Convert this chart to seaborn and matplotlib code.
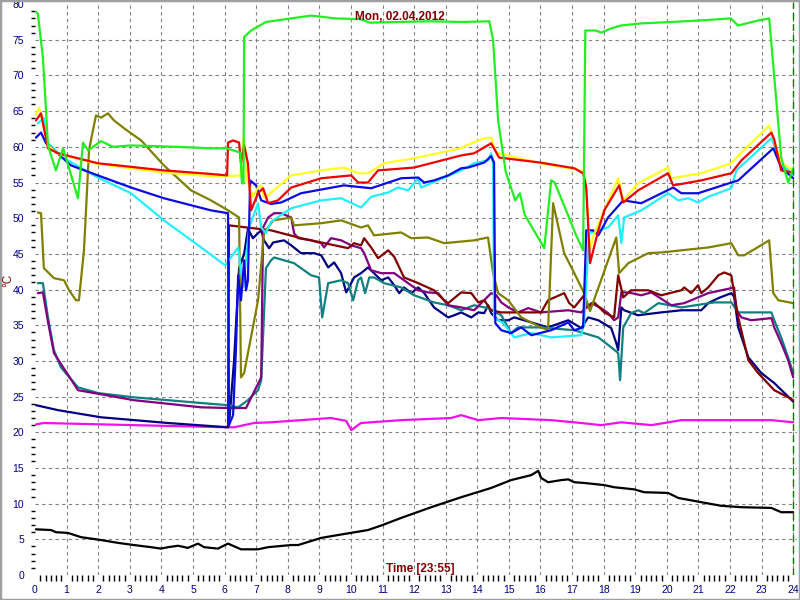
import numpy as np
import pandas as pd
import seaborn as sns
import matplotlib
matplotlib.use('Agg')
from matplotlib import pyplot as plt
from matplotlib.ticker import MultipleLocator
from matplotlib.patches import Rectangle

# Temperaturkurven vom 02.04.2012, (Stunde, °C)
black = [(0.03, 6.4), (0.51, 6.3), (0.66, 6.0), (1.04, 5.9), (1.46, 5.3), (2.09, 4.9), (2.63, 4.5),
         (3.13, 4.2), (3.67, 3.9), (3.99, 3.7), (4.21, 3.9), (4.53, 4.1), (4.84, 3.8), (5.16, 4.4),
         (5.35, 3.9), (5.79, 3.7), (6.11, 4.4), (6.52, 3.6), (7.06, 3.6), (7.38, 3.9), (8.11, 4.2),
         (8.33, 4.2), (9.06, 5.2), (9.59, 5.6), (10.54, 6.3), (11.0, 7.0), (11.59, 8.0), (12.54, 9.5),
         (13.49, 10.9), (14.44, 12.2), (15.07, 13.3), (15.71, 14.0), (15.93, 14.6), (16.02, 13.6),
         (16.24, 13.0), (16.66, 13.3), (16.88, 13.4), (17.07, 13.0), (17.38, 12.9), (18.02, 12.6),
         (18.33, 12.3), (18.97, 12.0), (19.28, 11.6), (20.04, 11.5), (20.36, 10.8), (21.09, 10.2),
         (21.72, 9.7), (22.36, 9.5), (23.31, 9.4), (23.62, 8.8), (24.0, 8.8)]

magenta = [(0.03, 21.1), (0.28, 21.3), (3.13, 21.0), (6.11, 20.7), (6.3, 20.7), (6.93, 21.3),
           (7.47, 21.4), (8.42, 21.7), (9.37, 22.0), (9.85, 21.6), (10.01, 20.3), (10.32, 21.3),
           (11.59, 21.7), (13.17, 22.0), (13.49, 22.4), (14.03, 21.7), (14.76, 22.0), (16.34, 21.7),
           (17.29, 21.3), (17.92, 21.0), (18.56, 21.4), (19.51, 21.0), (20.46, 21.7), (21.09, 21.7),
           (22.67, 21.7), (23.31, 21.7), (24.0, 21.4)]

navy = [(0.03, 23.8), (0.73, 23.1), (2.09, 22.1), (4.21, 21.3), (6.11, 20.7), (6.14, 21.0), (6.3, 30.0),
        (6.46, 43.0), (6.62, 45.0), (6.74, 48.5), (6.9, 47.2), (7.06, 47.9), (7.16, 48.3), (7.25, 46.9),
        (7.41, 45.8), (7.54, 46.6), (7.88, 46.9), (8.11, 46.2), (8.42, 45.1), (8.83, 45.1), (9.06, 44.8),
        (9.28, 43.1), (9.47, 43.8), (9.69, 42.3), (9.85, 39.6), (9.94, 40.3), (10.1, 41.7), (10.32, 42.3),
        (10.54, 43.1), (10.73, 42.3), (10.96, 41.3), (11.18, 41.7), (11.37, 40.6), (11.53, 39.5),
        (11.68, 40.3), (11.91, 39.5), (12.13, 40.3), (12.32, 39.5), (12.63, 37.5), (13.08, 36.1),
        (13.27, 36.4), (13.49, 36.8), (13.81, 36.1), (14.03, 36.8), (14.22, 36.7), (14.34, 37.8),
        (14.44, 36.7), (14.66, 35.7), (14.98, 35.7), (15.17, 36.1), (15.71, 35.4), (16.24, 34.7),
        (16.88, 35.7), (17.29, 34.6), (17.51, 36.1), (17.83, 35.7), (18.24, 34.6), (18.4, 32.5),
        (18.46, 31.5), (18.56, 37.5), (18.65, 37.1), (19.09, 36.4), (19.82, 36.8), (20.46, 37.1),
        (21.09, 37.1), (21.31, 38.1), (21.63, 38.8), (22.04, 39.5), (22.13, 39.0), (22.26, 34.7),
        (22.58, 30.5), (22.99, 28.3), (23.4, 26.9), (23.84, 25.0), (24.0, 24.3)]

teal = [(0.09, 40.9), (0.25, 40.9), (0.41, 36.1), (0.6, 31.5), (0.82, 29.1), (1.36, 26.3), (1.99, 25.5),
        (3.13, 24.9), (4.21, 24.5), (5.26, 24.1), (6.11, 23.8), (6.43, 23.5), (6.74, 24.5), (7.06, 25.9),
        (7.16, 27.3), (7.31, 43.0), (7.47, 44.1), (7.57, 44.5), (8.2, 43.7), (8.74, 42.0), (8.99, 41.7),
        (9.09, 36.1), (9.28, 40.9), (9.69, 41.3), (9.91, 40.9), (10.07, 38.5), (10.23, 41.3),
        (10.32, 41.7), (10.45, 39.5), (10.58, 41.7), (10.73, 41.7), (11.05, 40.9), (11.59, 40.3),
        (12.0, 39.2), (12.63, 38.2), (13.08, 37.8), (13.49, 37.1), (13.9, 37.8), (14.34, 37.4),
        (14.76, 36.4), (15.07, 33.9), (15.29, 34.7), (16.02, 34.7), (17.07, 34.3), (17.83, 33.3),
        (18.24, 31.9), (18.46, 31.1), (18.52, 27.3), (18.62, 34.7), (18.87, 36.7), (19.09, 37.1),
        (19.28, 36.7), (19.73, 38.1), (20.46, 37.5), (21.5, 38.2), (22.04, 38.2), (22.26, 36.8),
        (23.31, 36.8), (23.4, 35.7), (23.62, 33.3), (23.84, 30.5), (24.0, 28.3)]

purple = [(0.09, 39.5), (0.25, 39.6), (0.41, 35.5), (0.6, 31.1), (1.36, 25.9), (3.13, 24.5), (5.26, 23.5),
          (6.11, 23.4), (6.68, 23.4), (7.16, 27.7), (7.22, 48.7), (7.38, 50.1), (7.57, 50.7), (7.79, 50.7),
          (8.11, 50.1), (8.2, 47.9), (8.33, 47.2), (8.74, 46.9), (9.06, 46.5), (9.15, 45.9), (9.37, 47.2),
          (9.69, 46.9), (10.01, 46.2), (10.32, 45.8), (10.42, 45.1), (10.64, 42.7), (10.96, 42.3),
          (11.37, 42.3), (11.81, 40.9), (12.13, 39.9), (12.44, 39.6), (12.76, 39.5), (13.08, 37.8),
          (13.49, 37.5), (13.9, 37.1), (14.44, 39.5), (14.6, 39.2), (14.76, 38.2), (14.98, 37.5),
          (15.29, 36.8), (15.61, 37.4), (16.02, 36.8), (16.88, 37.1), (17.29, 36.8), (17.61, 38.1),
          (17.92, 37.4), (18.14, 36.7), (18.33, 35.7), (18.46, 36.1), (18.56, 39.6), (18.78, 39.6),
          (19.19, 39.2), (19.51, 39.6), (20.14, 37.8), (20.55, 38.1), (21.31, 39.5), (22.04, 40.2),
          (22.13, 40.3), (22.2, 37.1), (22.36, 36.1), (22.67, 35.7), (23.31, 36.0), (23.4, 34.7),
          (23.62, 32.5), (23.84, 30.1), (24.0, 27.7)]

maroon = [(6.11, 20.9), (6.14, 49.0), (7.47, 48.3), (8.42, 47.2), (9.91, 45.8), (10.1, 46.5), (10.32, 46.2),
          (10.42, 47.2), (10.64, 45.9), (10.86, 44.4), (11.18, 45.5), (11.37, 44.6), (11.68, 41.7),
          (12.13, 40.9), (12.63, 39.9), (12.95, 38.5), (13.08, 38.1), (13.27, 38.8), (13.49, 39.6),
          (13.81, 39.5), (14.03, 38.2), (14.22, 38.5), (14.44, 37.1), (14.76, 36.8), (16.02, 36.8),
          (16.24, 38.5), (16.75, 39.5), (16.91, 38.1), (17.07, 37.5), (17.38, 39.2), (17.51, 37.5),
          (17.7, 38.2), (18.02, 36.8), (18.33, 36.1), (18.46, 42.0), (18.62, 38.9), (18.87, 39.9),
          (19.41, 39.9), (19.82, 39.2), (20.46, 39.9), (20.55, 40.3), (20.77, 39.5), (20.99, 40.6),
          (21.09, 39.5), (21.31, 40.3), (21.63, 42.0), (21.82, 42.4), (22.04, 42.0), (22.13, 39.5),
          (22.26, 36.1), (22.58, 30.1), (22.89, 28.3), (23.4, 25.9), (23.84, 24.9), (24.0, 24.5)]

olive = [(0.09, 50.8), (0.19, 50.7), (0.28, 43.0), (0.6, 41.6), (0.92, 41.3), (1.08, 39.9), (1.3, 38.5),
         (1.39, 38.5), (1.55, 45.5), (1.61, 50.7), (1.71, 59.5), (1.77, 60.9), (1.93, 64.4), (2.09, 64.1),
         (2.31, 64.7), (2.5, 63.7), (2.82, 62.6), (3.36, 60.9), (4.08, 57.4), (4.94, 53.9), (5.57, 52.5),
         (6.11, 51.1), (6.46, 50.1), (6.52, 27.7), (6.62, 28.3), (7.06, 38.5), (7.25, 47.9), (7.54, 49.7),
         (8.11, 50.1), (8.2, 49.0), (9.06, 49.3), (9.69, 49.7), (10.32, 48.7), (10.54, 49.0), (10.73, 47.6),
         (11.59, 48.0), (11.91, 47.2), (12.44, 47.3), (12.95, 46.5), (13.9, 46.9), (14.34, 47.3),
         (14.5, 42.3), (14.66, 39.5), (14.98, 38.5), (15.39, 36.1), (16.02, 34.7), (16.24, 34.3),
         (16.4, 52.1), (16.5, 50.1), (16.75, 45.1), (17.07, 42.3), (17.38, 39.5), (17.57, 37.0),
         (18.4, 47.3), (18.49, 42.3), (18.78, 43.7), (19.41, 45.1), (19.82, 45.2), (20.46, 45.5),
         (21.31, 45.9), (22.04, 46.5), (22.26, 44.8), (22.45, 44.8), (23.24, 46.9), (23.37, 39.5),
         (23.53, 38.5), (24.0, 38.1)]

cyan = [(0.09, 63.3), (0.28, 64.0), (0.41, 60.5), (0.92, 58.4), (1.99, 55.7), (3.04, 53.5), (4.08, 49.7),
        (5.26, 45.9), (6.02, 43.4), (6.43, 45.9), (6.59, 40.3), (6.78, 48.7), (7.06, 52.1), (7.16, 48.7),
        (7.31, 47.9), (7.47, 49.5), (8.11, 51.4), (9.06, 52.5), (9.69, 52.8), (10.32, 51.5), (10.64, 53.0),
        (11.18, 53.6), (11.49, 54.3), (11.81, 53.9), (12.13, 55.6), (12.22, 54.3), (12.54, 54.9),
        (13.49, 56.7), (13.9, 57.7), (14.34, 58.1), (14.44, 59.1), (14.5, 57.7), (14.53, 36.1),
        (14.82, 35.3), (15.17, 33.3), (15.71, 33.9), (16.34, 33.3), (17.29, 33.6), (17.38, 35.3),
        (17.54, 47.9), (18.14, 48.7), (18.46, 50.4), (18.56, 46.5), (18.65, 50.1), (19.19, 51.1),
        (20.04, 53.5), (20.36, 52.5), (20.68, 52.8), (20.99, 52.2), (21.31, 53.0), (22.04, 54.2),
        (22.2, 56.7), (23.31, 61.2), (23.62, 57.7), (24.0, 56.0)]

blue = [(0.03, 61.3), (0.19, 62.0), (0.35, 60.5), (1.14, 57.4), (1.99, 56.0), (3.04, 54.3), (4.08, 52.8),
        (5.57, 51.1), (6.11, 50.7), (6.14, 21.0), (6.27, 22.4), (6.36, 31.5), (6.43, 42.0), (6.52, 38.5),
        (6.62, 44.1), (6.68, 39.9), (6.74, 41.3), (6.81, 55.3), (7.0, 54.6), (7.16, 52.5), (7.47, 52.0),
        (7.79, 52.2), (8.42, 53.5), (9.78, 54.6), (10.64, 54.2), (11.59, 55.6), (12.13, 55.7),
        (12.32, 55.0), (12.63, 55.3), (13.08, 56.0), (13.49, 57.0), (13.71, 57.1), (14.22, 57.8),
        (14.44, 58.7), (14.53, 57.8), (14.57, 35.3), (14.76, 34.3), (15.07, 33.9), (15.39, 34.7),
        (15.71, 33.6), (16.34, 34.3), (16.88, 35.4), (17.07, 34.3), (17.35, 34.7), (17.45, 48.3),
        (17.67, 48.3), (17.83, 47.6), (18.14, 50.1), (18.62, 52.5), (19.19, 52.1), (20.2, 54.3),
        (20.46, 53.5), (20.99, 53.5), (22.04, 55.0), (22.26, 55.3), (23.37, 59.8), (23.62, 57.1),
        (24.0, 55.6)]

yellow = [(0.03, 64.5), (0.13, 65.5), (0.41, 60.2), (0.73, 59.0), (1.99, 57.6), (4.08, 56.4), (5.57, 55.9),
          (6.05, 55.9), (6.5, 56.0), (6.59, 61.0), (6.65, 60.0), (6.7, 55.5), (6.9, 53.0), (7.06, 54.3),
          (7.16, 54.6), (7.25, 52.9), (7.38, 53.2), (8.11, 56.0), (9.06, 56.7), (9.78, 57.1), (10.23, 56.3),
          (10.54, 56.3), (11.05, 57.7), (12.0, 58.4), (13.49, 59.8), (13.65, 60.2), (14.22, 61.2),
          (14.44, 61.3), (14.6, 59.2), (15.99, 57.7), (17.29, 56.7), (17.42, 55.6), (17.57, 45.5),
          (17.67, 47.5), (18.46, 55.6), (18.62, 52.5), (19.09, 54.9), (20.04, 57.1), (20.14, 55.6),
          (21.09, 56.3), (22.04, 57.7), (22.36, 59.2), (23.24, 63.0), (23.62, 57.8), (24.0, 56.7)]

red = [(0.03, 63.7), (0.19, 64.7), (0.41, 59.8), (0.73, 59.1), (1.99, 57.7), (4.08, 56.7), (5.57, 56.2),
       (6.08, 56.0), (6.11, 60.6), (6.27, 60.9), (6.46, 60.6), (6.52, 57.7), (6.62, 60.2), (6.74, 57.7),
       (6.84, 51.1), (7.06, 53.5), (7.22, 54.2), (7.38, 52.1), (7.69, 52.5), (8.11, 54.3), (9.06, 55.6),
       (10.01, 56.0), (10.23, 55.0), (10.54, 55.0), (10.86, 56.7), (12.0, 57.1), (13.49, 58.8),
       (13.9, 59.1), (14.44, 60.5), (14.69, 58.5), (15.99, 57.8), (17.07, 57.0), (17.35, 56.3),
       (17.45, 54.3), (17.57, 43.7), (17.83, 48.3), (18.02, 51.1), (18.49, 54.6), (18.62, 52.2),
       (19.09, 53.9), (20.04, 56.3), (20.2, 54.6), (21.09, 55.3), (22.04, 56.3), (22.36, 58.1),
       (23.31, 62.0), (23.4, 61.0), (23.62, 56.7), (24.0, 56.4)]

lime = [(0.03, 78.9), (0.09, 78.7), (0.25, 72.5), (0.35, 65.1), (0.41, 60.2), (0.66, 56.7), (0.89, 59.8),
        (1.36, 52.8), (1.52, 60.6), (1.68, 59.5), (2.09, 60.8), (2.47, 60.0), (3.04, 60.2), (4.5, 60.0),
        (5.57, 59.8), (6.05, 59.8), (6.5, 59.2), (6.55, 54.9), (6.6, 54.9), (6.62, 75.4), (6.84, 76.3),
        (7.31, 77.5), (8.11, 78.0), (8.74, 78.4), (9.5, 78.0), (10.3, 77.9), (10.6, 77.4), (11.5, 77.5),
        (12.5, 77.6), (13.5, 77.5), (14.38, 77.6), (14.5, 75.0), (14.66, 63.7), (14.9, 56.5),
        (15.2, 52.5), (15.35, 53.5), (15.5, 50.5), (16.12, 45.8), (16.34, 55.3), (16.45, 55.0),
        (16.81, 51.1), (17.13, 47.6), (17.35, 45.5), (17.42, 76.3), (17.76, 76.3), (17.92, 76.0),
        (18.24, 76.6), (18.54, 77.0), (19.19, 77.3), (20.14, 77.5), (21.0, 77.7), (22.03, 78.0),
        (22.25, 77.0), (22.88, 77.7), (23.24, 78.0), (23.62, 58.5), (23.84, 55.0), (24.0, 57.0)]

series = {'black': black, 'magenta': magenta, 'navy': navy, 'teal': teal, 'purple': purple,
          'maroon': maroon, 'olive': olive, 'cyan': cyan, 'blue': blue, 'yellow': yellow,
          'red': red, 'lime': lime}
colors = {'black': '#000000', 'magenta': '#ee11ee', 'navy': '#000080', 'teal': '#108080',
          'purple': '#800080', 'maroon': '#800000', 'olive': '#808000', 'cyan': '#22eeff',
          'blue': '#0a0ae6', 'yellow': '#ffff22', 'red': '#ee0000', 'lime': '#22ee22'}

x_ticks = list(range(0, 25))
y_ticks = list(range(0, 81, 5))

df = pd.concat([pd.DataFrame(v, columns=['hour', 'temp']).assign(series=k) for k, v in series.items()])

sns.set_style('white')
plt.rcParams['font.family'] = ['Liberation Sans', 'DejaVu Sans']

fig = plt.figure(figsize=(8, 6), dpi=100)
ax = fig.add_axes([35 / 800, 25 / 600, 762 / 800, 573 / 600])

sns.lineplot(data=df, x='hour', y='temp', hue='series', palette=colors, hue_order=list(series),
             estimator=None, sort=False, legend=False, linewidth=1.6, ax=ax)

ax.set_xlim(0, 24.12)
ax.set_ylim(0, 80.3)
ax.set_xticks(x_ticks)
ax.set_yticks(y_ticks)
ax.xaxis.set_minor_locator(MultipleLocator(1 / 6))
ax.yaxis.set_minor_locator(MultipleLocator(1))
ax.set_xlabel('')
ax.set_ylabel('')
for s in ax.spines.values():
    s.set_visible(False)

ax.grid(True, color='#808080', linestyle=(0, (3, 3)), linewidth=0.8)
xgl = ax.get_xgridlines()
xgl[0].set_visible(False)
ygl = ax.get_ygridlines()
ygl[0].set_visible(False)
ygl[-1].set_visible(False)

ax.tick_params(axis='y', which='major', length=6, width=1, color='black', labelcolor='#000080',
               labelsize=7.5, pad=2)
ax.tick_params(axis='y', which='minor', length=3, width=1, color='black', left=True)
ax.tick_params(axis='x', which='major', length=5, width=1, color='black', labelcolor='#000080',
               labelsize=7.5, pad=2)
ax.tick_params(axis='x', which='minor', length=4, width=1, color='black', bottom=True)

# Cursor am Tagesende
ax.axvline(24, color='#008000', linestyle=(0, (5, 3)), linewidth=1)

fig.text(0.5, 1 - 17 / 600, 'Mon, 02.04.2012', color='#800000', fontsize=8.5, fontweight='bold',
         ha='center', va='center')
fig.text(420 / 800, 1 - 569 / 600, 'Time [23:55]', color='#800000', fontsize=8.5, fontweight='bold',
         ha='center', va='center')
fig.text(8 / 800, 1 - 280 / 600, '°C', color='#800000', fontsize=8.5, rotation=90,
         ha='center', va='center')

fig.patches.append(Rectangle((0, 0), 1, 1, transform=fig.transFigure, fill=False,
                             edgecolor='#a0a0a0', linewidth=2.5))

fig.savefig('out.png', dpi=100)
